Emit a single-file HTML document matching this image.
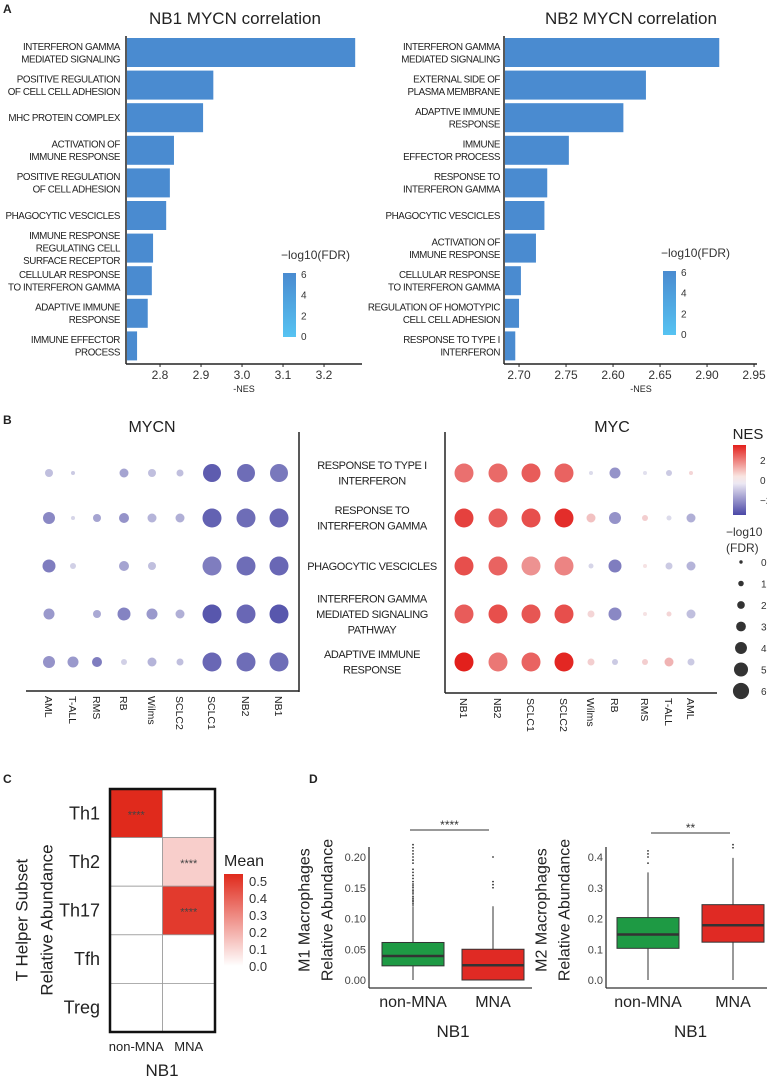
<!DOCTYPE html>
<html><head><meta charset="utf-8"><style>
html,body{margin:0;padding:0;background:#fff;}
svg{display:block;font-family:"Liberation Sans",sans-serif;}
</style></head><body>
<svg id="fig" width="767" height="1078" viewBox="0 0 767 1078" xmlns="http://www.w3.org/2000/svg"></svg>
<script>
// ---------- Panel A data ----------
const A1_terms = ["INTERFERON GAMMA|MEDIATED SIGNALING","POSITIVE REGULATION|OF CELL CELL ADHESION","MHC PROTEIN COMPLEX","ACTIVATION OF|IMMUNE RESPONSE","POSITIVE REGULATION|OF CELL ADHESION","PHAGOCYTIC VESCICLES","IMMUNE RESPONSE|REGULATING CELL|SURFACE  RECEPTOR","CELLULAR RESPONSE|TO INTERFERON GAMMA","ADAPTIVE IMMUNE|RESPONSE","IMMUNE EFFECTOR|PROCESS"];
const A1_nes = [3.276,2.93,2.905,2.834,2.824,2.815,2.783,2.78,2.77,2.744];
const A1_ticks = [2.8,2.9,3.0,3.1,3.2];
const A1_tickLabels = ["2.8","2.9","3.0","3.1","3.2"];
const A2_terms = ["INTERFERON GAMMA|MEDIATED SIGNALING","EXTERNAL SIDE OF|PLASMA MEMBRANE","ADAPTIVE IMMUNE|RESPONSE","IMMUNE|EFFECTOR PROCESS","RESPONSE TO|INTERFERON GAMMA","PHAGOCYTIC VESCICLES","ACTIVATION OF|IMMUNE RESPONSE","CELLULAR RESPONSE|TO INTERFERON GAMMA","REGULATION OF HOMOTYPIC|CELL CELL ADHESION","RESPONSE TO TYPE I|INTERFERON"];
const A2_nes = [2.913,2.835,2.811,2.753,2.730,2.727,2.718,2.702,2.700,2.696];
const A2_ticks = [2.70,2.75,2.80,2.85,2.90,2.95];
const A2_tickLabels = ["2.70","2.75","2.60","2.65","2.90","2.95"];
const A_fdrTicks = [6,4,2,0];
// ---------- Panel B data ----------
const B_terms = ["RESPONSE TO TYPE I|INTERFERON","RESPONSE TO|INTERFERON GAMMA","PHAGOCYTIC VESCICLES","INTERFERON GAMMA|MEDIATED SIGNALING|PATHWAY","ADAPTIVE IMMUNE|RESPONSE"];
const B_mycnCols = ["AML","T-ALL","RMS","RB","Wilms","SCLC2","SCLC1","NB2","NB1"];
const B_mycCols = ["NB1","NB2","SCLC1","SCLC2","Wilms","RB","RMS","T-ALL","AML"];
const B_mycnNES = [
 [-1.0,-0.8,null,-1.5,-1.0,-1.0,-2.8,-2.5,-2.3],
 [-2.0,-0.6,-1.5,-1.8,-1.2,-1.3,-2.7,-2.5,-2.6],
 [-2.2,-0.7,null,-1.5,-1.0,null,-2.2,-2.5,-2.6],
 [-1.7,null,-1.4,-2.1,-1.7,-1.3,-2.9,-2.6,-2.9],
 [-1.8,-1.7,-2.2,-0.7,-1.2,-1.0,-2.6,-2.5,-2.5]];
const B_mycnFDR = [
 [1.6,0,null,2.0,1.6,1.2,5.6,5.6,5.6],
 [3.2,0,1.6,2.4,2.0,2.0,6,6,6],
 [3.6,0.8,null,2.4,1.6,null,6,6,6],
 [2.8,null,1.6,3.6,2.8,2.0,6,6,6],
 [3.2,2.8,2.4,0.8,2.0,1.2,6,6,6]];
const B_mycNES = [
 [2.0,2.1,2.3,2.2,-0.5,-1.8,-0.4,-0.8,0.5],
 [2.7,2.3,2.5,3.0,0.8,-1.8,0.6,-0.5,-1.3],
 [2.5,2.2,1.5,1.7,-0.6,-2.2,0.3,-0.8,-1.2],
 [2.3,2.5,2.4,2.5,0.5,-2.0,0.3,0.5,-1.0],
 [3.2,1.9,2.2,3.1,0.6,-0.8,0.6,1.0,-0.8]];
const B_mycFDR = [
 [6,6,6,6,0,2.8,0,0.8,0],
 [6,6,6,6,2.0,3.2,0.8,0.4,2.0],
 [6,6,6,6,0.4,3.6,0,1.2,2.0],
 [6,6,6,6,1.2,3.6,0,0.4,2.0],
 [6,6,6,6,1.2,0.8,0.8,2.0,1.2]];
const B_nesTicks = [2,0,-2];
const B_sizeTicks = [0,1,2,3,4,5,6];
// ---------- Panel C data ----------
const C_rows = ["Th1","Th2","Th17","Tfh","Treg"];
const C_cols = ["non-MNA","MNA"];
const C_mean = [[0.52,0],[0,0.12],[0,0.48],[0,0],[0,0]];
const C_stars = [["****",""],["","****"],["","****"],["",""],["",""]];
const C_ticks = [0.5,0.4,0.3,0.2,0.1,0.0];
// ---------- Panel D data ----------
const D_groups = ["non-MNA","MNA"];
const D1_stats = [[0,0.023,0.039,0.061,0.12],[0,0.0,0.024,0.050,0.12]]; // min,q1,med,q3,max
const D1_out = [[0.122,0.125,0.128,0.13,0.133,0.136,0.14,0.143,0.146,0.15,0.153,0.156,0.16,0.165,0.17,0.175,0.18,0.19,0.195,0.2,0.205,0.21,0.215,0.22],[0.15,0.155,0.16,0.2]];
const D1_ticks = [0,0.05,0.10,0.15,0.20];
const D1_tickLabels = ["0.00","0.05","0.10","0.15","0.20"];
const D2_stats = [[0,0.103,0.148,0.203,0.35],[0,0.123,0.178,0.245,0.397]];
const D2_out = [[0.38,0.40,0.41,0.42],[0.43,0.44]];
const D2_ticks = [0,0.1,0.2,0.3,0.4];
const D2_tickLabels = ["0.0","0.1","0.2","0.3","0.4"];

const NS="http://www.w3.org/2000/svg";
const svg=document.getElementById('fig');
function mk(tag,attrs,name,parent){
  const el=document.createElementNS(NS,tag);
  for(const k in attrs) el.setAttribute(k,attrs[k]);
  
  
  (parent||svg).appendChild(el);
  return el;
}
function txt(x,y,s,size,name,opts){
  opts=opts||{};
  const a={x:x,y:y,'font-size':size,fill:opts.fill||'#222','text-anchor':opts.anchor||'start'};
  if(opts.weight)a['font-weight']=opts.weight;
  if(opts.rot!==undefined)a.transform='rotate('+opts.rot+' '+x+' '+y+')';
  if(opts.db)a['dominant-baseline']=opts.db;
  if(opts.ls)a['letter-spacing']=opts.ls;
  const t=mk('text',a,name);
  t.textContent=s;
  return t;
}
function multi(x,yc,s,size,lh,name,anchor){
  const lines=s.split('|');
  const y0=yc-(lines.length-1)*lh/2+size*0.36;
  lines.forEach((l,i)=>txt(x,y0+i*lh,l,size,name,{anchor:anchor,ls:'-0.4'}));
}
function line(x1,y1,x2,y2,name,stroke,w){
  return mk('line',{x1:x1,y1:y1,x2:x2,y2:y2,stroke:stroke||'#222','stroke-width':w||1.5},name);
}
// gradients
const defs=mk('defs',{},'defs');
function grad(id,stops){
  const g=mk('linearGradient',{id:id,x1:0,y1:0,x2:0,y2:1},'gradient',defs);
  stops.forEach(s=>mk('stop',{offset:s[0],'stop-color':s[1]},'gradient-stop',g));
}
grad('gA',[[0,'#4a8bd0'],[1,'#56c3f2']]);
grad('gB',[[0,'#e3201c'],[0.45,'#f9e6e2'],[0.55,'#ece8f3'],[1,'#4a47a6']]);
grad('gC',[[0,'#e02a1c'],[1,'#ffffff']]);

// panel labels
txt(3,13,'A',12,'panel-label-a',{weight:'bold'});
txt(3,424,'B',12,'panel-label-b',{weight:'bold'});
txt(3,783,'C',12,'panel-label-c',{weight:'bold'});
txt(309,783,'D',12,'panel-label-d',{weight:'bold'});

// ---------- Panel A ----------
function panelA(terms,vals,ticks,tl,x0,v0,k,axisEnd,title,titleX,labelX,legX,legY,nesX,pfx){
  const xs=v=>x0+(v-v0)*k;
  txt(titleX,24,title,17,pfx+'-title',{anchor:'middle'});
  const top=38,pitch=32.6;
  vals.forEach((v,i)=>{
    mk('rect',{x:x0+1,y:top+i*pitch,width:xs(v)-x0-1,height:29,fill:'#4a8bd0'},pfx+'-bar-'+(i+1));
    multi(labelX,top+i*pitch+14.5,terms[i],9.8,12.5,pfx+'-term-label','end');
  });
  line(x0,36,x0,364,pfx+'-y-axis');
  line(x0,364,axisEnd,364,pfx+'-x-axis');
  ticks.forEach((t,i)=>{
    line(xs(t),364,xs(t),367,pfx+'-x-tick','#222',1);
    txt(xs(t),379,tl[i],12,pfx+'-x-tick-label',{anchor:'middle',fill:'#333'});
  });
  txt(nesX,392,'-NES',9,pfx+'-x-axis-title',{anchor:'middle'});
  txt(legX-2,legY,'\u2212log10(FDR)',12,pfx+'-legend-title',{fill:'#333'});
  mk('rect',{x:legX,y:legY+14,width:13,height:64,fill:'url(#gA)'},pfx+'-legend-colorbar');
  A_fdrTicks.forEach(t=>{
    const y=legY+14+ (6-t)/6*62+1;
    txt(legX+18,y+4,String(t),10,pfx+'-legend-tick',{fill:'#333'});
  });
}
panelA(A1_terms,A1_nes,A1_ticks,A1_tickLabels,126,2.717,410,362,'NB1 MYCN correlation',235,120,283,259,244,'a1');
panelA(A2_terms,A2_nes,A2_ticks,A2_tickLabels,504,2.684,940,757,'NB2 MYCN correlation',631,500,663,257,641,'a2');

// ---------- Panel B ----------
const B_rowY=[473,518,566,614,662];
const B_mycnX=[49,73,97,124,152,180,212,246,279];
const B_mycX=[464,498,531,564,591,615,645,669,691];
function nesColor(v){
  const base=[247,246,248];
  const end=v<0?[72,70,165]:[226,32,28];
  const f=Math.min(Math.abs(v)/3.2,1);
  const c=base.map((b,i)=>Math.round(b+(end[i]-b)*f));
  return 'rgb('+c.join(',')+')';
}
const rad=f=>2+1.25*f;
txt(152,432,'MYCN',16,'b-mycn-title',{anchor:'middle'});
txt(612,432,'MYC',16,'b-myc-title',{anchor:'middle'});
function dots(nes,fdr,xs,pfx){
  nes.forEach((row,r)=>row.forEach((v,c)=>{
    if(v===null)return;
    mk('circle',{cx:xs[c],cy:B_rowY[r],r:rad(fdr[r][c]),fill:nesColor(v)},pfx+'-dot');
  }));
}
dots(B_mycnNES,B_mycnFDR,B_mycnX,'b-mycn');
dots(B_mycNES,B_mycFDR,B_mycX,'b-myc');
line(299,432,299,692,'b-mycn-right-axis');
line(26,691,299,691,'b-mycn-x-axis');
line(445,432,445,693,'b-myc-left-axis');
line(445,693,717,693,'b-myc-x-axis');
B_mycnCols.forEach((c,i)=>txt(B_mycnX[i]-4,696,c,10.5,'b-mycn-x-label',{rot:90}));
B_mycCols.forEach((c,i)=>txt(B_mycX[i]-4,698,c,10.5,'b-myc-x-label',{rot:90}));
B_terms.forEach((t,i)=>multi(372,B_rowY[i],t,11,15.5,'b-term-label','middle'));
txt(748,439,'NES',15,'b-nes-legend-title',{anchor:'middle'});
mk('rect',{x:733,y:445,width:13,height:70,fill:'url(#gB)'},'b-nes-colorbar');
B_nesTicks.forEach(t=>txt(760,480-t*10+4,t===-2?'\u22122':String(t),10,'b-nes-tick',{fill:'#333'}));
txt(726,536,'\u2212log10',12,'b-size-legend-title',{fill:'#333'});
txt(726,552,'(FDR)',12,'b-size-legend-title',{fill:'#333'});
B_sizeTicks.forEach((t,i)=>{
  const y=562+i*21.5;
  mk('circle',{cx:741,cy:y,r:rad(t)*0.85,fill:'#333'},'b-size-legend-dot');
  txt(761,y+4,String(t),10,'b-size-legend-label',{fill:'#333'});
});

// ---------- Panel C ----------
const C_x0=110,C_cw=52.5,C_y0=789,C_rh=48.6;
function meanColor(v){
  const f=Math.min(v/0.52,1);
  const e=[224,42,28];
  return 'rgb('+[255,255,255].map((b,i)=>Math.round(b+(e[i]-b)*f)).join(',')+')';
}
C_mean.forEach((row,r)=>row.forEach((v,c)=>{
  mk('rect',{x:C_x0+c*C_cw,y:C_y0+r*C_rh,width:C_cw,height:C_rh,fill:meanColor(v),stroke:'#999','stroke-width':0.8},'c-heatmap-cell');
  if(C_stars[r][c])txt(C_x0+c*C_cw+C_cw/2,C_y0+r*C_rh+C_rh/2+5,C_stars[r][c],11,'c-significance-stars',{anchor:'middle',fill:'#444'});
}));
mk('rect',{x:C_x0,y:C_y0,width:C_cw*2,height:C_rh*5,fill:'none',stroke:'#111','stroke-width':2.5},'c-heatmap-border');
C_rows.forEach((r,i)=>txt(100,C_y0+i*C_rh+C_rh/2+6,r,18,'c-row-label',{anchor:'end'}));
C_cols.forEach((c,i)=>txt(C_x0+i*C_cw+C_cw/2,1051,c,13,'c-col-label',{anchor:'middle'}));
txt(162,1076,'NB1',17,'c-x-axis-title',{anchor:'middle'});
txt(22,920,'T Helper Subset',17,'c-y-axis-title',{anchor:'middle',rot:-90,db:'central'});
txt(47,920,'Relative Abundance',17,'c-y-axis-title',{anchor:'middle',rot:-90,db:'central'});
txt(224,866,'Mean',16,'c-legend-title');
mk('rect',{x:224,y:874,width:19,height:92,fill:'url(#gC)'},'c-legend-colorbar');
C_ticks.forEach((t,i)=>txt(249,881+i*17+5,t.toFixed(1),13,'c-legend-tick',{fill:'#333'}));

// ---------- Panel D ----------
function boxPlot(stats,outs,ticks,tl,ax,axEnd,vmax,pfx,yTitle,boxX,star,sigX1,sigX2,sigY){
  const y0=980,y1=857;
  const ys=v=>y0-(v/vmax)*(y0-y1);
  line(ax,847,ax,988,pfx+'-y-axis','#333',1.3);
  line(ax,988,axEnd,988,pfx+'-x-axis','#333',1.3);
  ticks.forEach((t,i)=>txt(ax-3,ys(t)+4,tl[i],11,pfx+'-y-tick-label',{anchor:'end',fill:'#444'}));
  const cols=['#1e9a44','#e02a24'];
  stats.forEach((s,g)=>{
    const bx=boxX[g],w=62,cx=bx+w/2;
    line(cx,ys(s[0]),cx,ys(s[1]),pfx+'-whisker-low','#333',1);
    line(cx,ys(s[3]),cx,ys(s[4]),pfx+'-whisker-high','#333',1);
    mk('rect',{x:bx,y:ys(s[3]),width:w,height:ys(s[1])-ys(s[3]),fill:cols[g],stroke:'#333','stroke-width':1},pfx+'-box-'+D_groups[g]);
    line(bx,ys(s[2]),bx+w,ys(s[2]),pfx+'-median','#333',2.5);
    outs[g].forEach(o=>mk('circle',{cx:cx,cy:ys(o),r:0.9,fill:'#333'},pfx+'-outlier'));
    txt(cx,1007,D_groups[g],16,pfx+'-x-label',{anchor:'middle'});
  });
  line(sigX1,sigY,sigX2,sigY,pfx+'-significance-bar','#333',1);
  txt((sigX1+sigX2)/2,sigY-1,star,12,pfx+'-significance-stars',{anchor:'middle',fill:'#333'});
  txt((boxX[0]+boxX[1]+62)/2,1037,'NB1',17,pfx+'-x-axis-title',{anchor:'middle'});
  txt(ax-64,910,yTitle,16,pfx+'-y-axis-title',{anchor:'middle',rot:-90,db:'central'});
  txt(ax-41,910,'Relative Abundance',16,pfx+'-y-axis-title',{anchor:'middle',rot:-90,db:'central'});
}
boxPlot(D1_stats,D1_out,D1_ticks,D1_tickLabels,369,532,0.20,'d1','M1 Macrophages',[382,462],'****',410,489,830);
boxPlot(D2_stats,D2_out,D2_ticks,D2_tickLabels,606,767,0.40,'d2','M2 Macrophages',[617,702],'**',651,730,833);
</script>
</body></html>
